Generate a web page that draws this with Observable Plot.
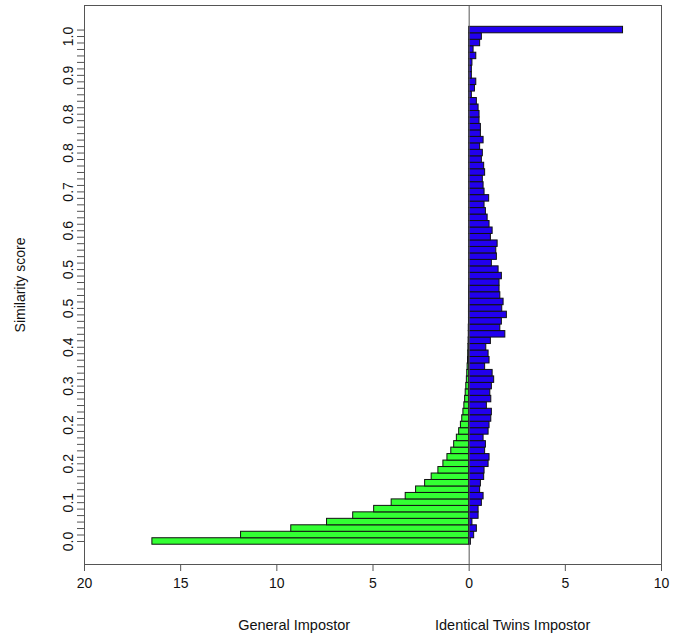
<!DOCTYPE html>
<html>
<head>
<meta charset="utf-8">
<script src="https://cdn.jsdelivr.net/npm/d3@7"></script>
<script src="https://cdn.jsdelivr.net/npm/@observablehq/plot@0.6"></script>
<style>
  html, body { margin: 0; padding: 0; background: #fff; overflow: hidden; }
  svg { display: block; }
</style>
</head>
<body>
<div id="chart"></div>
<script>
// Number of similarity-score bins (bottom = 0.0, top = 1.0)
const nBins = 80;

// Percentage per bin, General Impostor (left, green), bin 0 = score 0.0
const generalImpostor = [
  16.47, 11.86, 9.25, 7.39, 6.03, 4.94, 4.03, 3.30, 2.76, 2.29,
  1.95, 1.60, 1.34, 1.13, 0.93, 0.78, 0.64, 0.52, 0.43, 0.36,
  0.30, 0.25, 0.21, 0.18, 0.15, 0.12, 0.10, 0.08, 0.06, 0.05,
  0.04, 0.03, 0.02, 0.02, 0.01, 0.01, 0.01, 0.005, 0.005, 0.005,
  0, 0, 0, 0, 0, 0, 0, 0, 0, 0,
  0, 0, 0, 0, 0, 0, 0, 0, 0, 0,
  0, 0, 0, 0, 0, 0, 0, 0, 0, 0,
  0, 0, 0, 0, 0, 0, 0, 0, 0, 0
];

// Percentage per bin, Identical Twins Impostor (right, blue)
const twinsImpostor = [
  0.09, 0.26, 0.40, 0.17, 0.49, 0.49, 0.66, 0.75, 0.57, 0.61,
  0.78, 0.80, 1.01, 1.06, 0.83, 0.87, 0.75, 1.01, 1.06, 1.15,
  1.18, 0.92, 1.15, 1.10, 1.18, 1.30, 1.22, 0.83, 1.06, 1.01,
  0.89, 1.13, 1.88, 1.62, 1.70, 1.96, 1.72, 1.79, 1.62, 1.58,
  1.58, 1.70, 1.53, 1.18, 1.44, 1.41, 1.48, 1.13, 1.22, 1.06,
  0.96, 0.87, 0.80, 1.04, 0.80, 0.75, 0.71, 0.83, 0.78, 0.66,
  0.71, 0.57, 0.75, 0.61, 0.61, 0.54, 0.54, 0.49, 0.40, 0.14,
  0.30, 0.37, 0.14, 0.14, 0.17, 0.37, 0.23, 0.57, 0.66, 8.00
];

// Axis ticks and labels
const xTicks = [-20, -15, -10, -5, 0, 5, 10];
const xTickLabels = ["20", "15", "10", "5", "0", "5", "10"];
const yLabelBins = [0, 6, 12, 18, 24, 30, 36, 42, 48, 54, 60, 66, 72, 78];
const yTickLabels = ["0.0", "0.1", "0.2", "0.2", "0.3", "0.4", "0.5", "0.5", "0.6", "0.7", "0.8", "0.8", "0.9", "1.0"];
const groupLabels = ["General Impostor", "Identical Twins Impostor"];
const yTitle = "Similarity score";

// Derived table
const scores = d3.range(nBins).map(i => i / (nBins - 1));
const half = 0.5 / (nBins - 1);
const rows = scores.map((s, i) => ({
  y1: s - half, y2: s + half,
  general: -generalImpostor[i],
  twins: twinsImpostor[i]
}));
const yLabels = yLabelBins.map((b, k) => ({ y: scores[b], label: yTickLabels[k] }));
const groupX = [-9.1, 2.26];
const groups = groupLabels.map((t, i) => ({ x: groupX[i], t }));

const lineColor = "#555";

const chart = Plot.plot({
  width: 683,
  height: 639,
  marginLeft: 84,
  marginRight: 22,
  marginTop: 5,
  marginBottom: 75,
  style: { fontFamily: "'Liberation Sans', Arial, Helvetica, sans-serif", fontSize: "14px", color: "#111", background: "#fff" },
  x: { domain: [-20, 10] },
  y: { domain: [-0.045, 1.048] },
  marks: [
    Plot.rectX(rows, { x1: d => 0, x2: "general", y1: "y1", y2: "y2", fill: "#33ff33", stroke: "#111", strokeWidth: 1 }),
    Plot.rectX(rows, { x1: d => 0, x2: "twins", y1: "y1", y2: "y2", fill: "#2200ee", stroke: "#111", strokeWidth: 1 }),
    Plot.ruleX([0], { stroke: lineColor, strokeWidth: 1 }),
    Plot.frame({ stroke: lineColor, strokeWidth: 1 }),
    Plot.axisX({ ticks: xTicks, tickFormat: d => xTickLabels[xTicks.indexOf(d)], tickSize: 7, tickPadding: 7, label: null, stroke: lineColor, fontSize: 14 }),
    Plot.axisY({ ticks: scores, tickFormat: d => "", tickSize: 7, label: null, stroke: lineColor }),
    Plot.text(yLabels, { y: "y", text: "label", frameAnchor: "left", dx: -16, rotate: -90, textAnchor: "middle", lineAnchor: "middle", fontSize: 14, fill: "#111" }),
    Plot.text([yTitle], { frameAnchor: "left", dx: -64, rotate: -90, textAnchor: "middle", lineAnchor: "middle", fontSize: 14, fill: "#111" }),
    Plot.text(groups, { x: "x", text: "t", frameAnchor: "bottom", dy: 65, textAnchor: "middle", fontSize: 14.5, fill: "#111" })
  ]
});
document.getElementById("chart").appendChild(chart);
</script>
</body>
</html>
